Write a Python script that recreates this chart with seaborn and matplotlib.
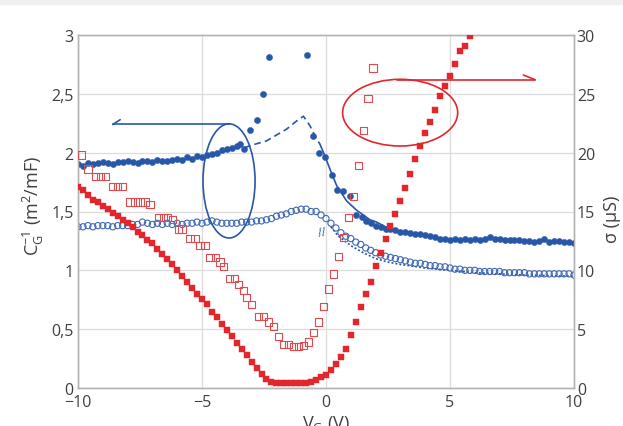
import numpy as np
import pandas as pd
import matplotlib
matplotlib.use("Agg")
import matplotlib.pyplot as plt
from matplotlib.patches import Ellipse, Rectangle
import seaborn as sns

# --- data ---
# blue filled circles: C_G^-1 (left axis)
bf_x = [-10.0, -9.8, -9.6, -9.4, -9.2, -9.0, -8.8, -8.6, -8.4, -8.2, -8.0, -7.8, -7.6, -7.4,
        -7.2, -7.0, -6.8, -6.6, -6.4, -6.2, -6.0, -5.8, -5.6, -5.4, -5.2, -5.0, -4.8, -4.6,
        -4.4, -4.2, -4.0, -3.8, -3.6, -3.45, -3.3,
        -3.06, -2.8, -2.54, -2.29, -0.78, -0.51, -0.27, -0.04, 0.23, 0.46, 0.7, 0.98, 1.21, 1.44,
        1.6, 1.8, 2.0, 2.2, 2.4, 2.6, 2.8, 3.0, 3.2, 3.4, 3.6, 3.8, 4.0, 4.2, 4.4, 4.6, 4.8,
        5.0, 5.2, 5.4, 5.6, 5.8, 6.0, 6.2, 6.4, 6.6, 6.8, 7.0, 7.2, 7.4, 7.6, 7.8, 8.0, 8.2,
        8.4, 8.6, 8.8, 9.0, 9.2, 9.4, 9.6, 9.8, 10.0]
bf_y = [1.90, 1.89, 1.91, 1.90, 1.91, 1.92, 1.91, 1.90, 1.92, 1.92, 1.93, 1.92, 1.91, 1.93,
        1.93, 1.92, 1.94, 1.93, 1.93, 1.94, 1.95, 1.94, 1.96, 1.95, 1.97, 1.96, 1.98, 1.99,
        2.00, 2.02, 2.03, 2.04, 2.06, 2.07, 2.03,
        2.19, 2.28, 2.50, 2.81, 2.83, 2.14, 2.00, 1.965, 1.81, 1.68, 1.67, 1.63, 1.47, 1.45,
        1.42, 1.40, 1.38, 1.37, 1.35, 1.35, 1.34, 1.33, 1.33, 1.32, 1.31, 1.31, 1.30, 1.29,
        1.28, 1.27, 1.27, 1.26, 1.27, 1.26, 1.27, 1.26, 1.27, 1.26, 1.27, 1.28, 1.27, 1.27,
        1.26, 1.26, 1.26, 1.26, 1.25, 1.25, 1.24, 1.25, 1.27, 1.24, 1.25, 1.25, 1.24, 1.24, 1.23]

# blue open circles: C_G^-1 (left axis)
bo_x = [-10.0, -9.8, -9.6, -9.4, -9.2, -9.0, -8.8, -8.6, -8.4, -8.2, -8.0, -7.8, -7.6, -7.4,
        -7.2, -7.0, -6.8, -6.6, -6.4, -6.2, -6.0, -5.8, -5.6, -5.4, -5.2, -5.0, -4.8, -4.6,
        -4.4, -4.2, -4.0, -3.8, -3.6, -3.4, -3.2, -3.0, -2.8, -2.6, -2.4, -2.2, -2.0, -1.8,
        -1.6, -1.4, -1.2, -1.0, -0.8, -0.6, -0.4, -0.2, 0.0, 0.2, 0.4, 0.6, 0.8, 1.0, 1.2,
        1.4, 1.6, 1.8, 2.0, 2.2, 2.4, 2.6, 2.8, 3.0, 3.2, 3.4, 3.6, 3.8, 4.0, 4.2, 4.4, 4.6,
        4.8, 5.0, 5.2, 5.4, 5.6, 5.8, 6.0, 6.2, 6.4, 6.6, 6.8, 7.0, 7.2, 7.4, 7.6, 7.8, 8.0,
        8.2, 8.4, 8.6, 8.8, 9.0, 9.2, 9.4, 9.6, 9.8, 10.0]
bo_y = [1.37, 1.37, 1.38, 1.37, 1.38, 1.38, 1.38, 1.37, 1.38, 1.38, 1.38, 1.39, 1.39, 1.41,
        1.40, 1.39, 1.40, 1.39, 1.40, 1.39, 1.40, 1.39, 1.40, 1.40, 1.41, 1.40, 1.41, 1.42,
        1.41, 1.40, 1.40, 1.40, 1.40, 1.41, 1.41, 1.41, 1.42, 1.42, 1.43, 1.44, 1.46, 1.47,
        1.48, 1.50, 1.51, 1.52, 1.52, 1.50, 1.50, 1.47, 1.44, 1.40, 1.36, 1.32, 1.29, 1.27, 1.24,
        1.22, 1.19, 1.17, 1.15, 1.13, 1.12, 1.11, 1.10, 1.09, 1.08, 1.07, 1.06, 1.06, 1.05, 1.04,
        1.04, 1.03, 1.03, 1.02, 1.01, 1.01, 1.00, 1.00, 1.00, 0.99, 0.99, 0.99, 0.99, 0.99, 0.98,
        0.98, 0.98, 0.98, 0.98, 0.97, 0.97, 0.97, 0.97, 0.97, 0.97, 0.97, 0.97, 0.97, 0.96]

# red filled squares: sigma (right axis, uS)
rf_x = [-10.0, -9.8, -9.6, -9.4, -9.2, -9.0, -8.8, -8.6, -8.4, -8.2, -8.0, -7.8, -7.6, -7.4,
        -7.2, -7.0, -6.8, -6.6, -6.4, -6.2, -6.0, -5.8, -5.6, -5.4, -5.2, -5.0, -4.8, -4.6,
        -4.4, -4.2, -4.0, -3.8, -3.6, -3.4, -3.2, -3.0, -2.8, -2.6, -2.4, -2.2, -2.0, -1.8,
        -1.6, -1.4, -1.2, -1.0, -0.8, -0.6, -0.4, -0.2, 0.0, 0.2, 0.4, 0.6, 0.8, 1.0, 1.2,
        1.4, 1.6, 1.8, 2.0, 2.2, 2.4, 2.6, 2.8, 3.0, 3.2, 3.4, 3.6, 3.8, 4.0, 4.2, 4.4, 4.6,
        4.8, 5.0, 5.2, 5.4, 5.6, 5.8]
rf_y = [17.1, 16.8, 16.4, 16.0, 15.8, 15.5, 15.2, 14.9, 14.6, 14.3, 14.0, 13.7, 13.3, 13.0,
        12.6, 12.3, 11.8, 11.4, 11.0, 10.5, 10.0, 9.5, 9.0, 8.5, 8.0, 7.6, 7.1, 6.5,
        6.0, 5.4, 4.9, 4.4, 3.8, 3.3, 2.8, 2.2, 1.7, 1.2, 0.8, 0.5, 0.4, 0.4,
        0.4, 0.4, 0.4, 0.4, 0.45, 0.55, 0.7, 0.9, 1.1, 1.5, 2.0, 2.6, 3.3, 4.5, 5.6,
        6.9, 8.0, 9.0, 10.4, 11.5, 12.7, 13.8, 14.8, 15.9, 17.0, 18.2, 19.5, 20.6, 21.7, 22.6,
        23.6, 24.8, 25.7, 26.5, 27.5, 28.6, 29.1, 29.9]

# red open squares: sigma (right axis, uS)
ro_x = [-9.85, -9.6, -9.3, -9.1, -8.9, -8.6, -8.4, -8.2, -7.9, -7.7, -7.5, -7.3, -7.1,
        -6.75, -6.55, -6.4, -6.2, -5.95, -5.8, -5.48, -5.28, -5.08, -4.88, -4.68, -4.45,
        -4.27, -4.12, -3.9, -3.7, -3.53, -3.33, -3.2, -3.0, -2.73, -2.53, -2.33, -2.12,
        -1.92, -1.72, -1.52, -1.32, -1.12, -0.9, -0.71, -0.51, -0.31, -0.11, 0.09, 0.3,
        0.5, 0.7, 0.9, 1.1, 1.3, 1.5, 1.7, 1.9]
ro_y = [19.8, 18.6, 18.0, 18.0, 18.0, 17.1, 17.1, 17.1, 15.8, 15.8, 15.8, 15.8, 15.6,
        14.5, 14.5, 14.5, 14.3, 13.5, 13.5, 12.7, 12.7, 12.1, 12.1, 11.1, 11.1,
        10.7, 10.3, 9.3, 9.3, 8.8, 8.3, 7.7, 7.1, 6.1, 6.1, 5.6, 5.2,
        4.4, 3.7, 3.7, 3.5, 3.5, 3.6, 3.9, 4.7, 5.6, 6.9, 8.4, 9.7,
        11.2, 12.8, 14.5, 16.3, 18.9, 21.9, 24.6, 27.2]

# model curves (left axis)
dash_x = [-3.3, -3.06, -2.4, -1.59, -1.18, -0.91, -0.65, -0.44, -0.24]
dash_y = [2.04, 2.06, 2.10, 2.20, 2.27, 2.31, 2.23, 2.14, 2.07]
solid_x = [-0.24, -0.1, 0.16, 0.43, 0.83, 1.24, 1.77, 2.04, 2.58, 3.0]
solid_y = [2.07, 2.0, 1.86, 1.72, 1.59, 1.51, 1.43, 1.41, 1.35, 1.33]
dot_x = [0.2, 0.5, 1.0, 1.5, 2.0, 2.5, 3.0, 4.0, 5.0, 6.0, 7.0, 8.0, 9.0, 10.0]
dot_y = [1.37, 1.29, 1.21, 1.15, 1.10, 1.07, 1.05, 1.02, 1.00, 0.98, 0.97, 0.96, 0.955, 0.95]

x_ticks = [-10, -5, 0, 5, 10]
x_ticklabels = ["\u221210", "\u22125", "0", "5", "10"]
y_ticks = [0, 0.5, 1, 1.5, 2, 2.5, 3]
y_ticklabels = ["0", "0,5", "1", "1,5", "2", "2,5", "3"]
y2_ticks = [0, 5, 10, 15, 20, 25, 30]

blue = "#2757a8"
blue_open = "#3f68b4"
red = "#e3262b"
red_open = "#de4a4e"
grey = "#404040"

sns.set_style("whitegrid")
plt.rcParams["font.family"] = ["Open Sans", "DejaVu Sans"]

fig = plt.figure(figsize=(6.23, 4.27), dpi=100)
fig.patches.append(Rectangle((0, 1 - 5 / 427), 1, 5 / 427, transform=fig.transFigure,
                             color="#f0f0f0", zorder=0))
ax = fig.add_axes([78 / 623, 1 - 389 / 427, (574 - 78) / 623, (389 - 36) / 427])
ax2 = ax.twinx()

# blue series on left axis
sns.scatterplot(x=bo_x, y=bo_y, ax=ax, marker="o", s=20, color=blue_open,
                facecolor="none", edgecolor=blue_open, linewidth=0.8, zorder=3)
sns.scatterplot(x=bf_x, y=bf_y, ax=ax, marker="o", s=20, color=blue,
                edgecolor=blue, linewidth=0.3, zorder=4)
sns.lineplot(x=dash_x, y=dash_y, ax=ax, color=blue, lw=1.2, linestyle=(0, (4, 2.5)),
             sort=False, estimator=None)
sns.lineplot(x=solid_x, y=solid_y, ax=ax, color=blue, lw=1.2, sort=False, estimator=None)
sns.lineplot(x=dot_x, y=dot_y, ax=ax, color=blue, lw=1.2, linestyle=(0, (1.2, 1.2)),
             sort=False, estimator=None)
ax.text(-0.15, 1.33, "//", color=blue, fontsize=8, ha="center", va="center",
        rotation=10, family="DejaVu Sans")

# red series on right axis
sns.scatterplot(x=ro_x, y=ro_y, ax=ax2, marker="s", s=28, color=red_open,
                facecolor="none", edgecolor=red_open, linewidth=0.8, zorder=3)
sns.scatterplot(x=rf_x, y=rf_y, ax=ax2, marker="s", s=22, color=red,
                edgecolor=red, linewidth=0.3, zorder=4)

# ellipses and arrows
ax2.add_patch(Ellipse((-3.91, 17.6), 2.1, 9.7, fill=False, ec=blue, lw=1.2))
ax2.plot([-3.9, -8.6], [22.4, 22.4], color=blue, lw=1.2)
ax2.plot([-8.6, -8.3], [22.4, 22.8], color=blue, lw=1.2)
ax2.add_patch(Ellipse((2.99, 23.4), 4.64, 5.67, fill=False, ec=red, lw=1.2))
ax2.plot([2.85, 8.43], [26.2, 26.2], color=red, lw=1.2)
ax2.plot([8.43, 7.96], [26.2, 26.6], color=red, lw=1.2)

# axes formatting
ax.set_xlim(-10, 10)
ax.set_ylim(0, 3)
ax2.set_ylim(0, 30)
ax.set_xticks(x_ticks, x_ticklabels)
ax.set_yticks(y_ticks, y_ticklabels)
ax2.set_yticks(y2_ticks, [str(v) for v in y2_ticks])
ax.grid(True, color="#dcdcdc", lw=0.9)
ax2.grid(False)
for a in (ax, ax2):
    for sp in a.spines.values():
        sp.set_color("#b4b4b4")
        sp.set_linewidth(1.0)
    a.tick_params(length=0, labelsize=11.5, labelcolor=grey)
ax.tick_params(axis="y", pad=3)
ax.tick_params(axis="x", pad=4)
ax2.tick_params(axis="y", pad=2)

ax.set_xlabel(r"V$_\mathregular{G}$ (V)", fontsize=13, color=grey)
ax.xaxis.set_label_coords(0.5, -0.071)
ax.set_ylabel(r"C$_\mathregular{G}^{\mathregular{-1}}$ (m$^\mathregular{2}$/mF)",
              fontsize=13, color=grey)
ax.yaxis.set_label_coords(-0.064, 0.52)
ax2.set_ylabel("\u03c3 (\u03bcS)", fontsize=13, color=grey)
ax2.yaxis.set_label_coords(1.058, 0.48)

fig.savefig("out.png", dpi=100)
